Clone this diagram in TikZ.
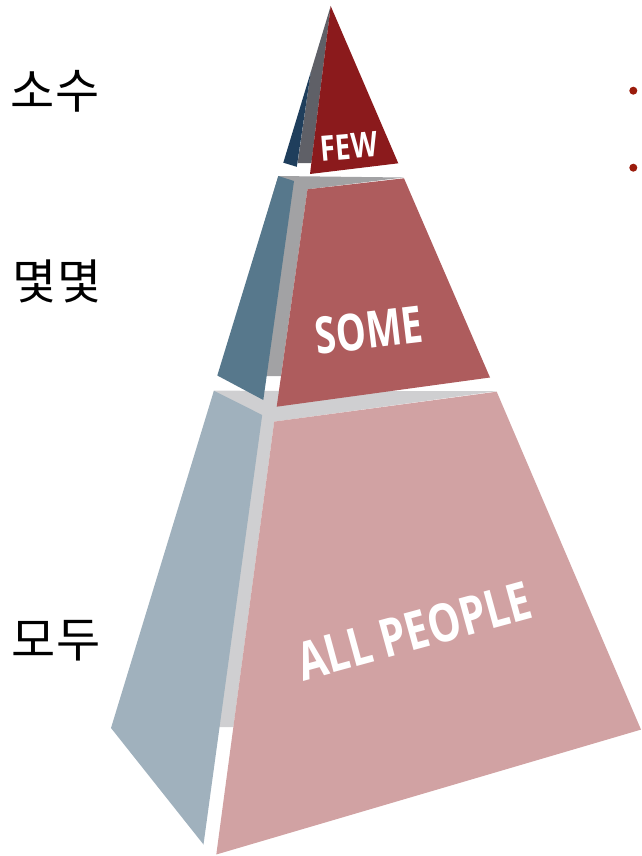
\documentclass[tikz,border=0pt]{standalone}
\usepackage{fontspec}
\setmainfont{Open Sans}
\newfontfamily\condfont[FakeStretch=0.78]{Open Sans}
\newfontfamily\condfontb[FakeStretch=0.74]{Open Sans}
\newfontfamily\krfont{Noto Sans CJK KR}
\definecolor{fewred}{HTML}{8B1A1C}
\definecolor{navy}{HTML}{1F3E5C}
\definecolor{topgray}{HTML}{5F6067}
\definecolor{somered}{HTML}{AE5C5D}
\definecolor{midblue}{HTML}{57788C}
\definecolor{midgray}{HTML}{A2A2A4}
\definecolor{allpink}{HTML}{D1A2A3}
\definecolor{botblue}{HTML}{A0B1BD}
\definecolor{botgray}{HTML}{CFCFD1}
\definecolor{dotred}{HTML}{9B1C0C}
\tikzset{
  tierlabel/.style={text=white, inner sep=0pt},
  krlabel/.style={inner sep=0pt, font=\krfont\fontsize{48}{52}\selectfont},
  bulletdot/.style={circle, fill=dotred, inner sep=0pt, minimum size=8pt}
}
\begin{document}
\begin{tikzpicture}[x=1pt,y=-1pt]
\useasboundingbox (0,0) rectangle (641,856);
% bottom tier
\fill[botgray] (213.9,390.7) -- (496.7,391.2) -- (274.2,421.6) -- (233.4,727) -- (150,727) -- cycle;
\fill[botblue] (213.9,390.7) -- (262.2,415) -- (203.5,844.5) -- (111,728) -- cycle;
\fill[allpink] (274.2,421.6) -- (496.7,391.7) -- (641,729.6) -- (216.3,854.5) -- cycle;
% middle tier
\fill[midgray] (278.3,176) -- (403.5,177.5) -- (307.5,189.3) -- (281,376) -- (219,376) -- cycle;
\fill[midblue] (278.3,176) -- (294,181) -- (263.3,400) -- (217.3,375.5) -- cycle;
\fill[somered] (307.5,189.3) -- (404,178.3) -- (490,377.5) -- (276.7,406.7) -- cycle;
% top tier
\fill[topgray] (330.7,6) -- (310.8,72) -- (297.6,163) -- (311.4,163) -- cycle;
\fill[navy] (310.8,72) -- (283.3,162.7) -- (296.8,166.8) -- cycle;
\fill[fewred] (330.7,6) -- (398.3,163.3) -- (310,174) -- cycle;
% tier texts
\node[tierlabel, rotate=4.9] (few) at (349,146.5) {\condfont\bfseries\fontsize{35}{40}\selectfont FEW};
\node[tierlabel, rotate=6.85] (some) at (369,330) {\condfontb\bfseries\fontsize{51}{60}\selectfont SOME};
\node[tierlabel, rotate=15.3] (all) at (414,631) {\condfont\bfseries\fontsize{53}{60}\selectfont ALL PEOPLE};
% Korean labels
\node[krlabel] (sosu) at (55,91) {소수};
\node[krlabel] (myeot) at (57,281) {몇몇};
\node[krlabel] (modu) at (56,641) {모두};
% bullet dots
\node[bulletdot] (dot1) at (633.3,90.7) {};
\node[bulletdot] (dot2) at (633.3,167.7) {};
\end{tikzpicture}
\end{document}
